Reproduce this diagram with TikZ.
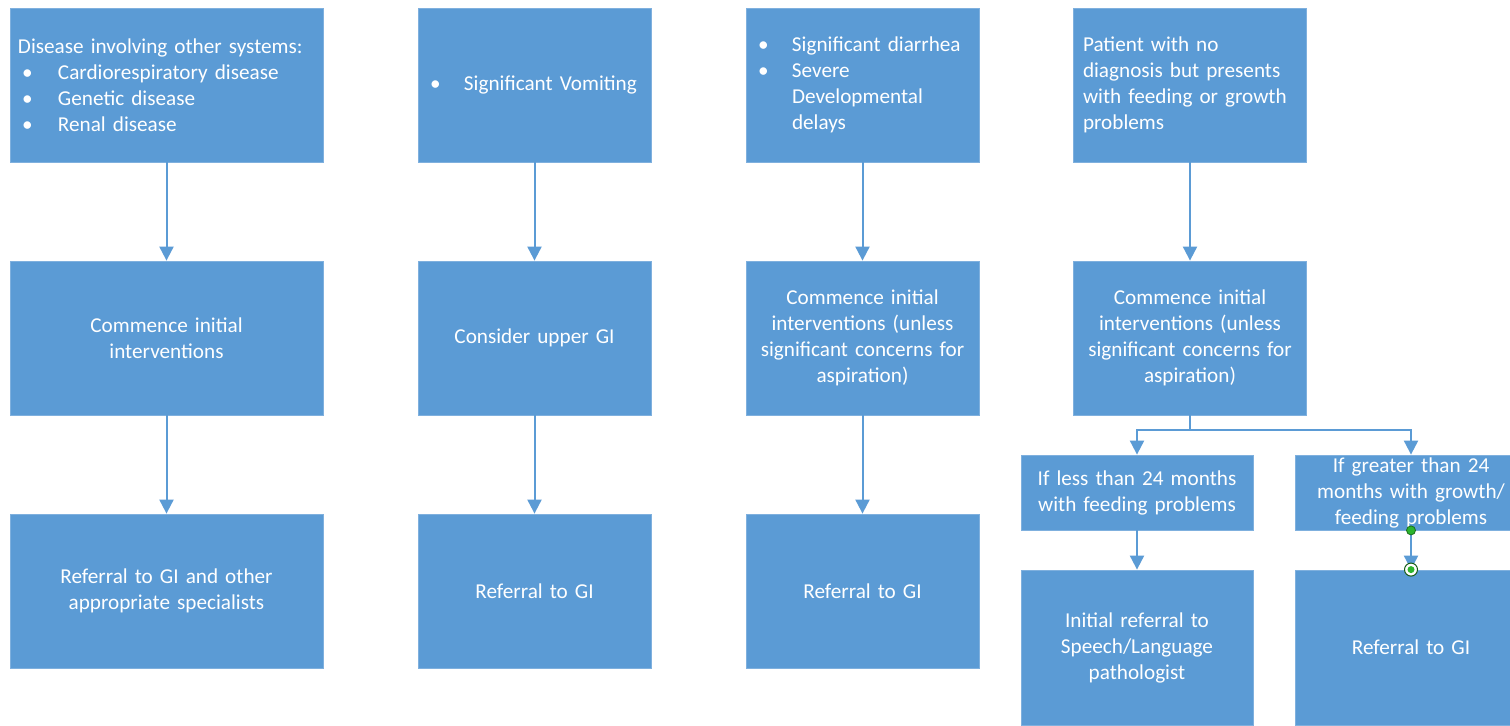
\documentclass[tikz,border=0pt]{standalone}
\usepackage{fontspec}
\setmainfont{Carlito}
\usetikzlibrary{arrows.meta}
\definecolor{boxblue}{HTML}{5B9BD5}
\definecolor{boxedge}{HTML}{7FB0DE}
\definecolor{handle}{HTML}{2DB52D}
\tikzset{
  box/.style={fill=boxblue, draw=boxedge, line width=0.4pt, text=white, inner xsep=4pt, inner ysep=0pt,
    font=\fontsize{10.6pt}{13pt}\selectfont},
  wide/.style={box, minimum width=156.5pt, text width=148.5pt, minimum height=77pt},
  std/.style={box, minimum width=116.5pt, text width=108.5pt, minimum height=77pt},
  sub/.style={box, minimum width=116pt, text width=112pt, minimum height=37.5pt, inner xsep=2pt},
  tall/.style={box, minimum width=116pt, text width=108pt, minimum height=77.5pt},
  conn/.style={draw=boxblue, line width=1pt},
  arr/.style={conn, -{Triangle[width=7pt,length=7pt]}},
}
\newcommand{\bul}[1]{\hspace*{2pt}\makebox[18pt][l]{\textbullet}#1}
\begin{document}
\begin{tikzpicture}[x=0.5pt, y=-0.5pt]
\useasboundingbox (0,0) rectangle (1510,726);
\clip (0,0) rectangle (1510,726);
\fill[white] (0,0) rectangle (1510,726);

% row 1
\node[wide, align=left] (a1) at (166.5,85) {Disease involving other systems:\\
\bul{Cardiorespiratory disease}\\
\bul{Genetic disease}\\
\bul{Renal disease}};
\node[std, align=left] (b1) at (534.5,85) {\hspace*{2pt}\makebox[17pt][l]{\textbullet}Significant Vomiting};
\node[std, align=left] (c1) at (862.5,85) {\hspace*{2pt}\makebox[17pt][l]{\textbullet}Significant diarrhea\\
\hspace*{2pt}\makebox[17pt][l]{\textbullet}Severe\\
\hspace*{19pt}Developmental\\
\hspace*{19pt}delays};
\node[std, align=left, text width=107pt, inner xsep=4.5pt] (d1) at (1190,85) {Patient with no\\
diagnosis but presents\\
with feeding or growth\\
problems};

% row 2
\node[wide, align=center] (a2) at (166.5,338) {Commence initial\\interventions};
\node[std, align=center] (b2) at (534.5,338) {Consider upper GI};
\node[std, align=center] (c2) at (862.5,338) {Commence initial\\interventions (unless\\significant concerns for\\aspiration)};
\node[std, align=center] (d2) at (1190,338) {Commence initial\\interventions (unless\\significant concerns for\\aspiration)};

% row 3
\node[wide, align=center] (a3) at (166.5,591) {Referral to GI and other\\appropriate specialists};
\node[std, align=center] (b3) at (534.5,591) {Referral to GI};
\node[std, align=center] (c3) at (862.5,591) {Referral to GI};

% column 4 branches
\node[sub, align=center] (e1) at (1137,492.5) {If less than 24 months\\with feeding problems};
\node[sub, align=center] (f1) at (1411,492.5) {If greater than 24\\months with growth/\\feeding problems};
\node[tall, align=center] (e2) at (1137,647.5) {Initial referral to\\Speech/Language\\pathologist};
\node[tall, align=center] (f2) at (1411,647.5) {Referral to GI};

% connectors
\draw[arr] (a1) -- (a2);
\draw[arr] (a2) -- (a3);
\draw[arr] (b1) -- (b2);
\draw[arr] (b2) -- (b3);
\draw[arr] (c1) -- (c2);
\draw[arr] (c2) -- (c3);
\draw[arr] (d1) -- (d2);
\coordinate (split) at (1190,430);
\draw[conn] (d2.south) -- (split);
\draw[arr] (split) -| (e1.north);
\draw[arr] (split) -| (f1.north);
\draw[arr] (e1) -- (e2);
\draw[arr] (f1) -- (f2);

% selection handles on the last connector
\fill[handle, draw=handle!60!black, line width=0.4pt] (f1.south) circle (4.5);
\draw[handle!50!black, fill=white, line width=0.5pt] (f2.north) circle (6.5);
\fill[handle] (f2.north) circle (3.5);
\end{tikzpicture}
\end{document}
